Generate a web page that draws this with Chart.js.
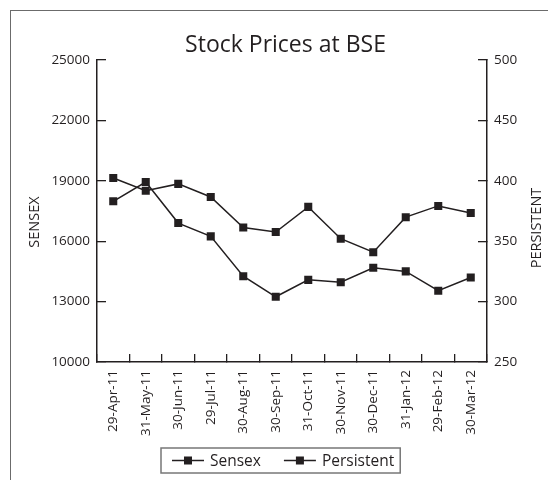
<!DOCTYPE html>
<html>
<head>
<meta charset="utf-8">
<script src="https://cdn.jsdelivr.net/npm/chart.js@4.4.0/dist/chart.umd.min.js"></script>
<style>
  html, body { margin: 0; padding: 0; background: #fff; overflow: hidden; }
  #wrap { position: relative; width: 548px; height: 480px; }
  #frame { position: absolute; left: 10px; top: 10px; width: 600px; height: 600px; border: 1.5px solid #6b6b6b; }
  canvas { position: absolute; left: 0; top: 0; }
</style>
</head>
<body>
<div id="wrap">
  <div id="frame"></div>
  <canvas id="bse" width="548" height="480"></canvas>
</div>
<script>
const dates = ["29-Apr-11", "31-May-11", "30-Jun-11", "29-Jul-11", "30-Aug-11", "30-Sep-11",
  "31-Oct-11", "30-Nov-11", "30-Dec-11", "31-Jan-12", "29-Feb-12", "30-Mar-12"];
const sensex = [19136, 18503, 18846, 18197, 16677, 16454, 17705, 16123, 15455, 17194, 17753, 17404];
const persistent = [383, 399, 365, 354, 321, 304, 318, 316, 328, 325, 309, 320];
const sensexTicks = [10000, 13000, 16000, 19000, 22000, 25000];
const persistentTicks = [250, 300, 350, 400, 450, 500];

const chartTitle = "Stock Prices at BSE";
const ink = "#231f20";
const family = "'Open Sans', sans-serif";

Chart.defaults.font.family = family;
Chart.defaults.color = ink;

// title, axis titles and the boxed legend are drawn by hand
const decor = {
  id: "decor",
  afterDraw(chart) {
    const ctx = chart.ctx;
    ctx.save();
    ctx.fillStyle = ink;
    ctx.textBaseline = "alphabetic";
    ctx.textAlign = "center";
    ctx.font = "23px " + family;
    ctx.fillText(chartTitle, 285.5, 52);

    const sideTitle = (text, x, y) => {
      ctx.save();
      ctx.translate(x, y);
      ctx.rotate(-Math.PI / 2);
      ctx.font = "14.5px " + family;
      ctx.textAlign = "center";
      ctx.textBaseline = "middle";
      ctx.fillText(text, 0, 0);
      ctx.restore();
    };
    sideTitle("SENSEX", 35, 222);
    sideTitle("PERSISTENT", 537, 228);

    // legend
    ctx.font = "15.5px " + family;
    ctx.textAlign = "left";
    ctx.textBaseline = "middle";
    const ly = 460.5;
    let x = 172;
    chart.data.datasets.forEach(ds => {
      ctx.strokeStyle = ink;
      ctx.lineWidth = 1.5;
      ctx.beginPath();
      ctx.moveTo(x, ly);
      ctx.lineTo(x + 32, ly);
      ctx.stroke();
      ctx.fillRect(x + 12, ly - 4, 8, 8);
      ctx.fillText(ds.label, x + 38, ly + 1);
      x += 38 + ctx.measureText(ds.label).width + 23;
    });
    ctx.strokeStyle = "#777";
    ctx.lineWidth = 1.5;
    ctx.strokeRect(161, 448, x - 23 + 6 - 161, 25);
    ctx.restore();
  }
};

new Chart(document.getElementById("bse"), {
  type: "line",
  data: {
    labels: dates,
    datasets: [
      { label: "Sensex", data: sensex, yAxisID: "y" },
      { label: "Persistent", data: persistent, yAxisID: "y1" }
    ]
  },
  options: {
    responsive: false,
    animation: false,
    layout: { padding: { top: 60, left: 0, right: 0, bottom: 0 } },
    elements: {
      line: { borderColor: ink, borderWidth: 1.5, tension: 0, fill: false },
      point: { pointStyle: "rect", radius: 5.7, borderWidth: 0, backgroundColor: ink, borderColor: ink }
    },
    plugins: {
      legend: { display: false },
      title: { display: false },
      tooltip: { enabled: false }
    },
    scales: {
      x: {
        offset: true,
        grid: { offset: true, drawOnChartArea: false, tickLength: -8, color: ink, lineWidth: 1.3 },
        border: { color: ink, width: 1.5 },
        ticks: { autoSkip: false, minRotation: 90, maxRotation: 90, padding: 16, color: ink, font: { size: 13.5 } },
        afterFit: s => { s.height = 118; }
      },
      y: {
        position: "left",
        min: 10000,
        max: 25000,
        afterBuildTicks: s => { s.ticks = sensexTicks.map(v => ({ value: v })); },
        grid: { drawOnChartArea: false, tickLength: -9, color: ink, lineWidth: 1.3 },
        border: { color: ink, width: 1.5 },
        ticks: { padding: 16, color: ink, font: { size: 13.5 }, callback: v => String(v) },
        afterFit: s => { s.width = 97; }
      },
      y1: {
        position: "right",
        min: 250,
        max: 500,
        afterBuildTicks: s => { s.ticks = persistentTicks.map(v => ({ value: v })); },
        grid: { drawOnChartArea: false, tickLength: -9, color: ink, lineWidth: 1.3 },
        border: { color: ink, width: 1.5 },
        ticks: { padding: 16, color: ink, font: { size: 13.5 }, callback: v => String(v) },
        afterFit: s => { s.width = 61; }
      }
    }
  },
  plugins: [decor]
});
</script>
</body>
</html>
